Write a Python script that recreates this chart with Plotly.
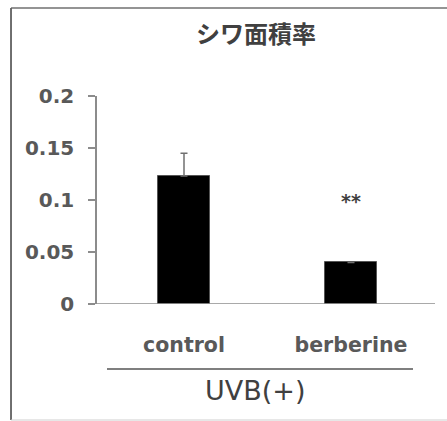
import plotly.graph_objects as go

categories = ["control", "berberine"]
values = [0.123, 0.040]
errors = [0.022, 0.0]
yticks = [0, 0.05, 0.1, 0.15, 0.2]
ytick_labels = ["0", "0.05", "0.1", "0.15", "0.2"]
title_text = "シワ面積率"
group_label = "UVB(+)"
sig_marks = ["", "**"]

xpos = list(range(len(categories)))

fig = go.Figure()
fig.add_trace(go.Bar(
    x=xpos, y=values, width=0.311,
    marker=dict(color="black", line=dict(color="#555555", width=1)),
    error_y=dict(type="data", array=errors, arrayminus=[0, 0], symmetric=False,
                 color="#707070", thickness=1.5, width=3.5),
    showlegend=False,
))

annotations = [
    dict(text=title_text, x=0.47, y=1.307, xref="paper", yref="paper",
         showarrow=False, xanchor="center", yanchor="middle",
         font=dict(family="Noto Sans CJK JP", size=24, color="#404040", weight="bold")),
    dict(text=group_label, x=0.466, y=-0.4135, xref="paper", yref="paper",
         showarrow=False, xanchor="center", yanchor="middle",
         font=dict(family="DejaVu Sans", size=27, color="#404040")),
]
for xi, (v, e, s) in enumerate(zip(values, errors, sig_marks)):
    if s:
        annotations.append(dict(text=s, x=xi, y=0.099, xref="x", yref="y",
                                showarrow=False, xanchor="center", yanchor="middle",
                                font=dict(family="DejaVu Sans", size=19, color="#404040", weight="bold")))

shapes = [
    # outer frame: top, left, bottom edges
    dict(type="line", xref="paper", yref="paper", x0=-0.2544, x1=1.1, y0=1.423, y1=1.423,
         line=dict(color="#707070", width=1.5), layer="below"),
    dict(type="line", xref="paper", yref="paper", x0=-0.2544, x1=-0.2544, y0=-0.5577, y1=1.423,
         line=dict(color="#606060", width=1.8), layer="below"),
    dict(type="line", xref="paper", yref="paper", x0=-0.2544, x1=1.1, y0=-0.5577, y1=-0.5577,
         line=dict(color="#d0d0d0", width=1.2), layer="below"),
    # x axis line
    dict(type="line", xref="paper", yref="y", x0=-0.0148, x1=1.0, y0=0, y1=0,
         line=dict(color="#8c8c8c", width=1.5)),
    # group line
    dict(type="line", xref="paper", yref="paper", x0=0.0296, x1=0.935, y0=-0.3125, y1=-0.3125,
         line=dict(color="#555555", width=1.5)),
]

fig.update_layout(
    width=447, height=421,
    margin=dict(l=97, r=12, t=96, b=117),
    paper_bgcolor="white", plot_bgcolor="white",
    annotations=annotations, shapes=shapes,
    bargap=0,
)
fig.update_xaxes(
    range=[-0.521, 1.503], tickvals=xpos, ticktext=categories,
    showline=False, showgrid=False, zeroline=False, ticks="",
    ticklabelstandoff=26,
    tickfont=dict(family="DejaVu Sans", size=20.5, color="#595959", weight="bold"),
)
fig.update_yaxes(
    range=[0, 0.2], tickvals=yticks, ticktext=ytick_labels,
    showline=True, linecolor="#8c8c8c", linewidth=1.5,
    ticks="outside", ticklen=7, tickcolor="#8c8c8c", tickwidth=1.5,
    showgrid=False, zeroline=False, ticklabelstandoff=10,
    tickfont=dict(family="DejaVu Sans", size=20, color="#595959", weight="bold"),
)
fig.write_html(
    "out.html",
    config={"displayModeBar": False},
    post_script="document.body.style.margin='0';document.body.style.overflow='hidden';",
)
